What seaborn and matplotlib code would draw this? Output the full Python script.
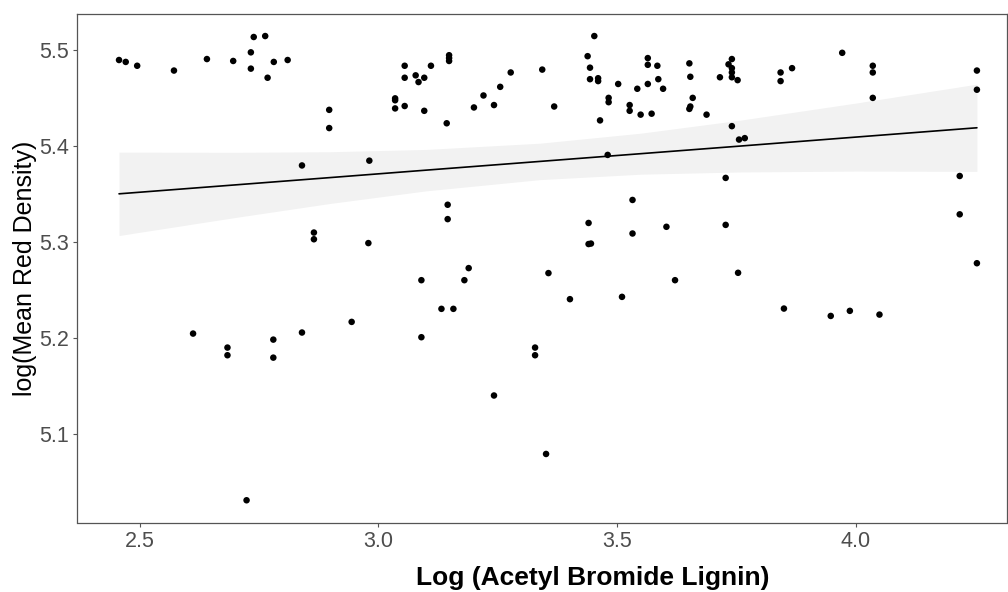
import numpy as np
import pandas as pd
import matplotlib
matplotlib.use("Agg")
import matplotlib.pyplot as plt
import seaborn as sns

log_lignin = [
    2.457, 2.471, 2.495, 2.572, 2.641, 2.696, 2.733, 2.739, 2.763, 2.733, 2.781, 2.768, 2.810,
    2.897, 2.897, 2.840, 2.981, 2.865, 2.865, 2.979,
    3.035, 3.035, 3.035, 3.055, 3.055, 3.055, 3.078, 3.084, 3.096, 3.096, 3.110, 3.148, 3.148,
    3.148, 3.143, 3.200, 3.220, 3.242, 3.255, 3.277, 3.343, 3.368, 3.438, 3.452, 3.443, 3.443,
    3.460, 3.460, 3.502, 3.482, 3.482, 3.464, 3.480, 3.542, 3.526, 3.526, 3.549, 3.564, 3.564,
    3.564, 3.572, 3.584, 3.586, 3.596, 3.651, 3.653, 3.658, 3.653, 3.651, 3.687,
    3.145, 3.145, 3.440, 3.440, 3.445, 3.532, 3.532, 3.603,
    3.715, 3.733, 3.740, 3.740, 3.740, 3.740, 3.752, 3.740, 3.755, 3.767, 3.727, 3.727, 3.842,
    3.842, 3.866, 3.971, 4.035, 4.035, 4.035, 4.253, 4.253, 4.217, 4.217, 4.253,
    2.612, 2.684, 2.684, 2.780, 2.780, 2.840, 2.944, 2.724,
    3.090, 3.090, 3.189, 3.180, 3.132, 3.157, 3.356, 3.401, 3.510, 3.621, 3.328, 3.328, 3.242, 3.351,
    3.753, 3.849, 3.947, 3.987, 4.049,
]
log_red_density = [
    5.490, 5.488, 5.484, 5.479, 5.491, 5.489, 5.498, 5.514, 5.515, 5.481, 5.488, 5.4715, 5.490,
    5.438, 5.419, 5.380, 5.385, 5.310, 5.303, 5.299,
    5.450, 5.448, 5.4395, 5.484, 5.4715, 5.442, 5.474, 5.467, 5.4715, 5.437, 5.484, 5.495, 5.492,
    5.489, 5.424, 5.4405, 5.453, 5.443, 5.462, 5.477, 5.480, 5.4415, 5.494, 5.515, 5.482, 5.470,
    5.471, 5.468, 5.465, 5.4505, 5.446, 5.427, 5.391, 5.460, 5.443, 5.437, 5.433, 5.492, 5.485,
    5.465, 5.434, 5.484, 5.470, 5.460, 5.4865, 5.4725, 5.4505, 5.4415, 5.439, 5.433,
    5.339, 5.324, 5.320, 5.298, 5.2985, 5.344, 5.309, 5.316,
    5.472, 5.4855, 5.491, 5.4815, 5.477, 5.472, 5.469, 5.421, 5.407, 5.4085, 5.367, 5.318, 5.477,
    5.468, 5.4815, 5.4975, 5.484, 5.477, 5.4505, 5.479, 5.459, 5.369, 5.329, 5.278,
    5.2046, 5.190, 5.182, 5.1983, 5.1795, 5.2057, 5.2168, 5.0307,
    5.2603, 5.2008, 5.2729, 5.2603, 5.2304, 5.2304, 5.2677, 5.2405, 5.2429, 5.2603, 5.190, 5.182, 5.140, 5.079,
    5.268, 5.2307, 5.223, 5.2283, 5.2244,
]

# linear fit and its 95% confidence band
fit_x = [2.457, 2.700, 2.898, 3.100, 3.338, 3.550, 3.757, 4.000, 4.253]
fit_y = [5.3504, 5.3597, 5.3673, 5.3751, 5.3842, 5.3923, 5.4002, 5.4096, 5.4193]
band_low = [5.3069, 5.3257, 5.3403, 5.3535, 5.3652, 5.3709, 5.3732, 5.3741, 5.3738]
band_high = [5.3939, 5.3937, 5.3943, 5.3967, 5.4032, 5.4137, 5.4272, 5.4451, 5.4648]

x_ticks = [2.5, 3.0, 3.5, 4.0]
y_ticks = [5.1, 5.2, 5.3, 5.4, 5.5]
x_title = "Log (Acetyl Bromide Lignin)"
y_title = "log(Mean Red Density)"

df = pd.DataFrame({"x": log_lignin, "y": log_red_density})
fit = pd.DataFrame({"x": fit_x, "y": fit_y, "lo": band_low, "hi": band_high})

sns.set_theme(style="white")
plt.rcParams["font.family"] = ["Liberation Sans", "DejaVu Sans"]

fig = plt.figure(figsize=(10.08, 5.92), dpi=100)
ax = fig.add_axes([77 / 1008, 1 - 522.5 / 592, 930 / 1008, 508.5 / 592])

ax.fill_between(fit["x"], fit["lo"], fit["hi"], color="#f2f2f2", linewidth=0, zorder=1)
sns.lineplot(data=fit, x="x", y="y", ax=ax, color="black", linewidth=1.2, zorder=3)

sns.scatterplot(data=df, x="x", y="y", ax=ax, color="black", s=22,
                edgecolor="none", linewidth=0, zorder=4)

ax.set_xlim(2.369, 4.316)
ax.set_ylim(5.0075, 5.538)
ax.set_xticks(x_ticks)
ax.set_xticklabels([f"{t:.1f}" for t in x_ticks])
ax.set_yticks(y_ticks)
ax.set_yticklabels([f"{t:.1f}" for t in y_ticks])

for sp in ax.spines.values():
    sp.set_visible(True)
    sp.set_color("#555555")
    sp.set_linewidth(0.9)

ax.tick_params(axis="both", which="major", length=3, width=0.8, color="#555555",
               labelsize=15.5, labelcolor="#4d4d4d", pad=3,
               bottom=True, left=True)
ax.grid(False)

ax.set_xlabel(x_title, fontsize=19, fontweight="bold", color="black")
ax.set_ylabel(y_title, fontsize=18, color="black")
ax.xaxis.set_label_coords((592.5 - 77) / 930, -(578 - 522.5) / 508.5)
ax.yaxis.set_label_coords(-(77 - 25) / 930, (522.5 - 268) / 508.5)
ax.xaxis.label.set_va("center")
ax.yaxis.label.set_va("center")

fig.savefig("out.png", dpi=100, facecolor="white")
